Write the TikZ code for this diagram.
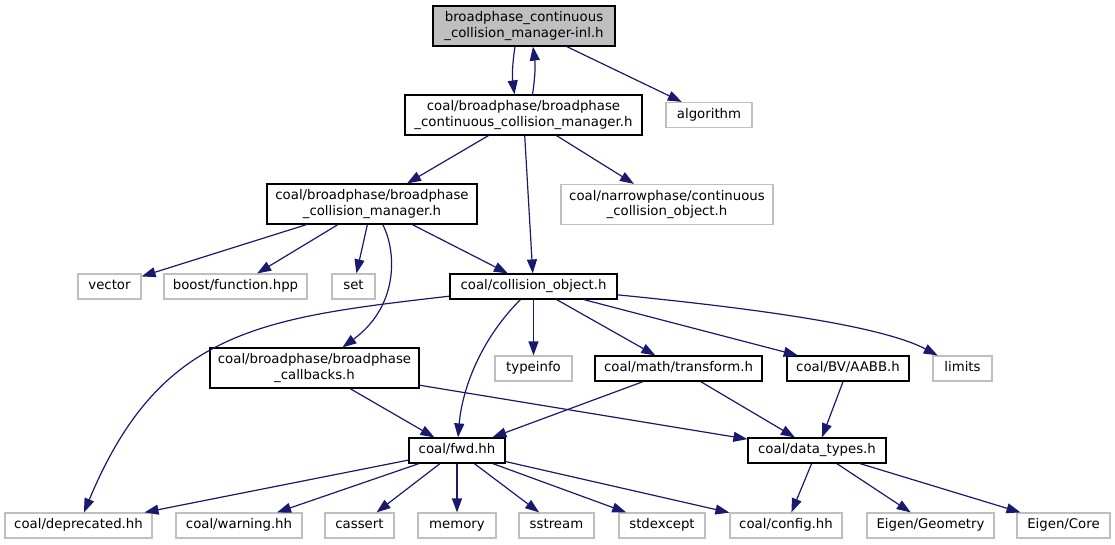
\documentclass[tikz,border=0pt]{standalone}
\usepackage{fontspec}
\setmainfont{DejaVu Sans}
\usepackage{tikz}
\usetikzlibrary{arrows.meta}
\definecolor{edgeblue}{HTML}{191970}
\definecolor{extgray}{HTML}{BFBFBF}

\begin{document}
\begin{tikzpicture}[x=1pt,y=-1pt,->,>={Triangle[length=14pt,width=10pt]},color=edgeblue,line width=1.2pt]
\tikzstyle{hdr}=[draw=black,text=black,rectangle,align=center,inner sep=0pt,minimum height=25,text height=9.8pt,text depth=3.2pt,font=\fontsize{13.3}{15.3}\selectfont]
\tikzstyle{two}=[minimum height=40,text height=,text depth=]
\tikzstyle{sys}=[hdr,draw=extgray]
\tikzstyle{me}=[hdr,two,fill=extgray]
\useasboundingbox (0,0) rectangle (1115,544);
\node[me,minimum width=182] (root) at (524,26) {broadphase\_continuous\\\_collision\_manager-inl.h};
\node[hdr,two,minimum width=237] (bcm) at (523.5,115) {coal/broadphase/broadphase\\\_continuous\_collision\_manager.h};
\node[sys,minimum width=86] (alg) at (709,115) {algorithm};
\node[hdr,two,minimum width=210] (bm) at (372,204) {coal/broadphase/broadphase\\\_collision\_manager.h};
\node[sys,two,minimum width=212] (narrow) at (667,204.5) {coal/narrowphase/continuous\\\_collision\_object.h};
\node[sys,minimum width=63] (vec) at (109.5,286.5) {vector};
\node[sys,minimum width=143] (boost) at (235.5,286.5) {boost/function.hpp};
\node[sys,minimum width=43] (set) at (353.5,286.5) {set};
\node[hdr,minimum width=167] (cobj) at (533.5,286.5) {coal/collision\_object.h};
\node[hdr,two,minimum width=209] (cb) at (314.5,368) {coal/broadphase/broadphase\\\_callbacks.h};
\node[sys,minimum width=77] (tinfo) at (533.5,368.5) {typeinfo};
\node[hdr,minimum width=167] (tf) at (678.5,368.5) {coal/math/transform.h};
\node[hdr,minimum width=122] (aabb) at (848,368.5) {coal/BV/AABB.h};
\node[sys,minimum width=59] (lim) at (962.5,368.5) {limits};
\node[hdr,minimum width=96] (fwd) at (457,450.5) {coal/fwd.hh};
\node[hdr,minimum width=138] (dt) at (817,450.5) {coal/data\_types.h};
\node[sys,minimum width=147] (depr) at (78.5,525.5) {coal/deprecated.hh};
\node[sys,minimum width=126] (warn) at (239,525.5) {coal/warning.hh};
\node[sys,minimum width=69] (cass) at (359.5,525.5) {cassert};
\node[sys,minimum width=78] (mem) at (457,525.5) {memory};
\node[sys,minimum width=75] (sstr) at (556.5,525.5) {sstream};
\node[sys,minimum width=86] (stdex) at (662,525.5) {stdexcept};
\node[sys,minimum width=112] (conf) at (786,525.5) {coal/config.hh};
\node[sys,minimum width=127] (geom) at (930.5,525.5) {Eigen/Geometry};
\node[sys,minimum width=93] (core) at (1063.5,525.5) {Eigen/Core};
\path ([xshift=-9pt]root.south) edge[bend right=8] ([xshift=-9pt]bcm.north)
      ([xshift=9pt]bcm.north) edge[bend right=8] ([xshift=9pt]root.south)
      (root) edge (alg)
      (bcm) edge (bm)
            edge (cobj)
            edge (narrow)
      (bm) edge (vec)
           edge (boost)
           edge (set)
           edge (cobj)
      (cobj) edge (tinfo)
             edge (tf)
             edge (aabb)
      (cb) edge (fwd)
           edge (dt)
      (tf) edge (fwd)
           edge (dt)
      (aabb) edge (dt)
      (fwd) edge (depr) edge (warn) edge (cass) edge (mem)
            edge (sstr) edge (stdex) edge (conf)
      (dt) edge (conf) edge (geom) edge (core);
\draw (bm) .. controls (396,250) and (400,305) .. (cb);
\draw (cobj) .. controls (260,318) and (160,330) .. (depr);
\draw (cobj) .. controls (480,340) and (462,390) .. (fwd);
\draw (cobj) .. controls (750,308) and (880,325) .. (lim);
\end{tikzpicture}
\end{document}
